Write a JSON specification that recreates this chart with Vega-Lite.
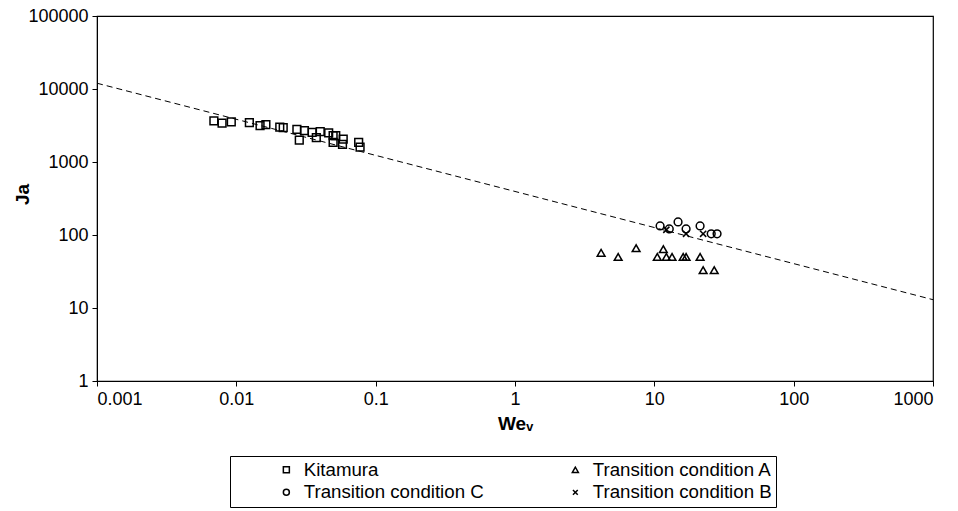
{
  "$schema": "https://vega.github.io/schema/vega-lite/v6.json",
  "autosize": "none",
  "width": 836,
  "height": 365,
  "padding": {"left": 97, "top": 16, "right": 25, "bottom": 130},
  "background": "white",
  "config": {
    "view": {"stroke": "black", "strokeWidth": 1.2},
    "font": "Liberation Sans",
    "axis": {
      "grid": false,
      "domainColor": "black",
      "tickColor": "black",
      "labelColor": "black",
      "titleColor": "black",
      "labelFont": "Liberation Sans",
      "titleFont": "Liberation Sans",
      "labelFontSize": 18,
      "titleFontSize": 19,
      "titleFontWeight": "bold",
      "tickSize": 5,
      "labelPadding": 4
    }
  },
  "datasets": {
    "points": [
      {"We": 0.0069, "Ja": 3650, "series": "Kitamura"},
      {"We": 0.0079, "Ja": 3400, "series": "Kitamura"},
      {"We": 0.0092, "Ja": 3550, "series": "Kitamura"},
      {"We": 0.0124, "Ja": 3450, "series": "Kitamura"},
      {"We": 0.0148, "Ja": 3150, "series": "Kitamura"},
      {"We": 0.0163, "Ja": 3250, "series": "Kitamura"},
      {"We": 0.0205, "Ja": 3000, "series": "Kitamura"},
      {"We": 0.0217, "Ja": 2950, "series": "Kitamura"},
      {"We": 0.0272, "Ja": 2800, "series": "Kitamura"},
      {"We": 0.0283, "Ja": 2000, "series": "Kitamura"},
      {"We": 0.0308, "Ja": 2700, "series": "Kitamura"},
      {"We": 0.0350, "Ja": 2550, "series": "Kitamura"},
      {"We": 0.0375, "Ja": 2150, "series": "Kitamura"},
      {"We": 0.0400, "Ja": 2600, "series": "Kitamura"},
      {"We": 0.0460, "Ja": 2500, "series": "Kitamura"},
      {"We": 0.0495, "Ja": 2300, "series": "Kitamura"},
      {"We": 0.0517, "Ja": 2300, "series": "Kitamura"},
      {"We": 0.0495, "Ja": 1850, "series": "Kitamura"},
      {"We": 0.0585, "Ja": 2050, "series": "Kitamura"},
      {"We": 0.0578, "Ja": 1750, "series": "Kitamura"},
      {"We": 0.0755, "Ja": 1850, "series": "Kitamura"},
      {"We": 0.0773, "Ja": 1600, "series": "Kitamura"},
      {"We": 4.15, "Ja": 57, "series": "Transition condition A"},
      {"We": 5.5, "Ja": 50, "series": "Transition condition A"},
      {"We": 7.4, "Ja": 66, "series": "Transition condition A"},
      {"We": 10.5, "Ja": 50, "series": "Transition condition A"},
      {"We": 11.6, "Ja": 64, "series": "Transition condition A"},
      {"We": 12.2, "Ja": 50, "series": "Transition condition A"},
      {"We": 13.4, "Ja": 50, "series": "Transition condition A"},
      {"We": 16.1, "Ja": 50, "series": "Transition condition A"},
      {"We": 16.9, "Ja": 50, "series": "Transition condition A"},
      {"We": 21.3, "Ja": 50, "series": "Transition condition A"},
      {"We": 22.4, "Ja": 33, "series": "Transition condition A"},
      {"We": 26.9, "Ja": 33, "series": "Transition condition A"},
      {"We": 11.0, "Ja": 133, "series": "Transition condition C"},
      {"We": 12.8, "Ja": 121, "series": "Transition condition C"},
      {"We": 14.8, "Ja": 151, "series": "Transition condition C"},
      {"We": 16.9, "Ja": 121, "series": "Transition condition C"},
      {"We": 21.3, "Ja": 133, "series": "Transition condition C"},
      {"We": 25.6, "Ja": 104, "series": "Transition condition C"},
      {"We": 28.2, "Ja": 104, "series": "Transition condition C"},
      {"We": 12.2, "Ja": 118, "series": "Transition condition B"},
      {"We": 16.9, "Ja": 104, "series": "Transition condition B"},
      {"We": 22.4, "Ja": 104, "series": "Transition condition B"}
    ],
    "fit": [
      {"We": 0.001, "Ja": 12000},
      {"We": 1000, "Ja": 13}
    ]
  },
  "layer": [
    {
      "data": {"name": "fit"},
      "mark": {"type": "line", "color": "black", "strokeWidth": 1, "strokeDash": [6, 4]},
      "encoding": {
        "x": {"field": "We", "type": "quantitative"},
        "y": {"field": "Ja", "type": "quantitative"}
      }
    },
    {
      "data": {"name": "points"},
      "mark": {"type": "point", "filled": false, "color": "black", "strokeWidth": 1.5, "size": 60, "opacity": 1},
      "encoding": {
        "x": {
          "field": "We", "type": "quantitative",
          "scale": {"type": "log", "domain": [0.001, 1000], "nice": false},
          "axis": {"title": "Weᵥ", "values": [0.001, 0.01, 0.1, 1, 10, 100, 1000], "format": "~g", "titlePadding": 6}
        },
        "y": {
          "field": "Ja", "type": "quantitative",
          "scale": {"type": "log", "domain": [1, 100000], "nice": false},
          "axis": {"title": "Ja", "values": [1, 10, 100, 1000, 10000, 100000], "format": "~g", "titleX": -75, "titleY": 178, "titleAngle": -90, "titleAlign": "center", "titleBaseline": "middle"}
        },
        "shape": {
          "field": "series", "type": "nominal",
          "scale": {
            "domain": ["Kitamura", "Transition condition C", "Transition condition A", "Transition condition B"],
            "range": ["square", "circle", "triangle-up", "M-0.8,-0.8L0.8,0.8M-0.8,0.8L0.8,-0.8"]
          },
          "legend": {
            "orient": "none",
            "legendX": 133,
            "legendY": 440,
            "columns": 2,
            "columnPadding": 82,
            "rowPadding": 3,
            "title": " ",
            "titleFontSize": 10,
            "titleOrient": "left",
            "titlePadding": 43,
            "padding": 4,
            "strokeColor": "black",
            "labelFont": "Liberation Sans",
            "labelFontSize": 18.7,
            "labelColor": "black",
            "labelLimit": 400,
            "labelOffset": 8,
            "symbolSize": 36,
            "symbolStrokeWidth": 1.5,
            "symbolStrokeColor": "black"
          }
        }
      }
    }
  ]
}
